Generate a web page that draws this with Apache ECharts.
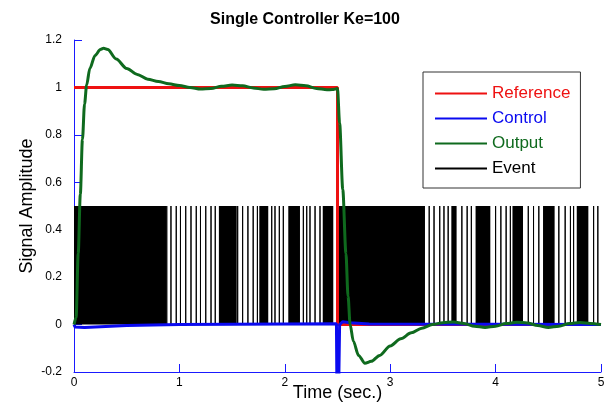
<!DOCTYPE html>
<html><head><meta charset="utf-8">
<script src="https://cdn.jsdelivr.net/npm/echarts@6/dist/echarts.min.js"></script>
<style>html,body{margin:0;padding:0;background:#fff}#c{width:610px;height:407px}</style>
</head><body><div id="c"></div>
<script>
const titleText = 'Single Controller Ke=100';
const xAxisName = 'Time (sec.)';
const yAxisName = 'Signal Amplitude';
const seriesNames = ['Reference', 'Control', 'Output', 'Event'];

const refTime  = [0, 2.5, 2.5, 5];
const refValue = [1, 1, 0, 0];

const ctrlTime  = [0, 0.01, 0.1, 0.3, 0.5, 1.0, 2.49, 2.5, 2.52, 2.55, 2.62, 2.8, 5.0];
const ctrlValue = [0, -0.01, -0.012, -0.008, -0.004, 0.0, 0.003, -0.6, 0.0, 0.012, 0.008, 0.002, 0.0];

const outTime  = [0, 0.02, 0.04, 0.06, 0.08, 0.1, 0.12, 0.15, 0.2, 0.25, 0.28, 0.32, 0.4, 0.5, 0.6, 0.7, 0.8, 0.9, 1.0, 1.1, 1.2, 1.3, 1.4, 1.5, 1.6, 1.7, 1.8, 1.9, 2.0, 2.1, 2.2, 2.3, 2.4, 2.45, 2.5, 2.52, 2.55, 2.58, 2.6, 2.62, 2.65, 2.7, 2.76, 2.82, 2.9, 3.0, 3.1, 3.2, 3.3, 3.4, 3.5, 3.6, 3.7, 3.8, 3.9, 4.0, 4.1, 4.2, 4.3, 4.4, 4.5, 4.6, 4.7, 4.8, 4.9, 5.0];
const outValue = [0, 0.03, 0.3, 0.55, 0.78, 0.93, 1.01, 1.08, 1.135, 1.16, 1.165, 1.16, 1.12, 1.08, 1.055, 1.035, 1.025, 1.015, 1.008, 1.0, 0.993, 0.995, 1.005, 1.01, 1.007, 0.998, 0.992, 0.994, 1.004, 1.011, 1.007, 0.996, 0.99, 0.991, 0.995, 0.85, 0.57, 0.3, 0.12, 0.0, -0.07, -0.13, -0.163, -0.155, -0.13, -0.09, -0.06, -0.035, -0.015, 0.0, 0.008, 0.011, 0.005, -0.007, -0.012, -0.007, 0.004, 0.01, 0.007, -0.004, -0.012, -0.007, 0.004, 0.009, 0.005, 0.0];

const eventHeight = 0.5;
const eventBlocks = [[0, 0.873], [1.385, 1.544], [1.758, 1.843], [2.033, 2.144], [2.36, 2.46], [2.508, 3.33], [3.58, 3.63], [3.81, 3.95], [4.16, 4.26], [4.45, 4.56], [4.77, 4.88]];
const eventTimes = [0.88, 0.92, 0.97, 1.01, 1.06, 1.11, 1.16, 1.2, 1.25, 1.3, 1.34, 1.38,
  1.553, 1.60, 1.65, 1.70, 1.74, 1.876, 1.907, 1.948, 1.986, 2.176, 2.208, 2.239, 2.287, 2.334,
  3.37, 3.416, 3.47, 3.51, 3.55, 3.68, 3.73, 3.77, 4.0, 4.05, 4.1, 4.14, 4.31, 4.36, 4.41, 4.6, 4.66, 4.71, 4.74, 4.93, 4.97];

const xMin = 0, xMax = 5, xStep = 1;
const yMin = -0.2, yMax = 1.2, yStep = 0.2;

const RED = '#ee1111', BLUE = '#0a0af0', GREEN = '#0f6a1e', AXIS = '#1a1aff';
const FONT = 'Liberation Sans, Arial, sans-serif';

const zip = (a, b) => a.map((v, i) => [v, b[i]]);
const eventLine = [];
eventTimes.slice().sort((a, b) => a - b).forEach(t => { eventLine.push([t, 0], [t, eventHeight], [t, 0]); });

const chart = echarts.init(document.getElementById('c'), null, {renderer: 'canvas'});
chart.setOption({
  animation: false,
  backgroundColor: '#fff',
  title: {text: titleText, left: 'center', top: 7, textStyle: {fontFamily: FONT, fontSize: 16, fontWeight: 'bold', color: '#000'}},
  grid: {left: 74, right: 9, top: 40, bottom: 35, containLabel: false, outerBoundsMode: 'none'},
  legend: {
    left: 423, top: 72, orient: 'vertical',
    backgroundColor: '#fff', borderColor: '#333', borderWidth: 1, borderRadius: 0,
    padding: [13, 10, 11, 11], itemWidth: 52, itemHeight: 14, itemGap: 8,
    itemStyle: {opacity: 0},
    textStyle: {fontFamily: FONT, fontSize: 17},
    data: [
      {name: seriesNames[0], textStyle: {color: RED}},
      {name: seriesNames[1], textStyle: {color: BLUE}},
      {name: seriesNames[2], textStyle: {color: GREEN}},
      {name: seriesNames[3], textStyle: {color: '#000'}}
    ]
  },
  xAxis: {
    type: 'value', min: xMin, max: xMax, interval: xStep,
    name: xAxisName, nameLocation: 'middle', nameGap: 12, nameMoveOverlap: false,
    nameTextStyle: {fontFamily: FONT, fontSize: 18, color: '#000'},
    axisLine: {show: true, onZero: false, lineStyle: {color: AXIS, width: 1}},
    axisTick: {show: true, inside: true, length: 8, lineStyle: {color: AXIS}},
    axisLabel: {fontFamily: FONT, fontSize: 12, color: '#000', margin: 5},
    splitLine: {show: false}
  },
  yAxis: {
    type: 'value', min: yMin, max: yMax, interval: yStep,
    name: yAxisName, nameLocation: 'middle', nameGap: 38, nameMoveOverlap: false,
    nameTextStyle: {fontFamily: FONT, fontSize: 18, color: '#000'},
    axisLine: {show: true, onZero: false, lineStyle: {color: AXIS, width: 1}},
    axisTick: {show: true, inside: true, length: 8, lineStyle: {color: AXIS}},
    axisLabel: {fontFamily: FONT, fontSize: 12, color: '#000', margin: 12,
      formatter: v => String(Math.round(v * 10) / 10)},
    splitLine: {show: false}
  },
  series: [
    {name: seriesNames[3], type: 'line', data: eventLine, symbol: 'none', clip: true,
     lineStyle: {color: '#000', width: 1}, itemStyle: {color: '#000'}},
    {name: seriesNames[3], type: 'custom', data: eventBlocks, encode: {x: [0, 1]}, clip: true,
     renderItem: (params, api) => {
       const p0 = api.coord([api.value(0), eventHeight]);
       const p1 = api.coord([api.value(1), 0]);
       return {type: 'rect', shape: {x: p0[0], y: p0[1], width: p1[0] - p0[0], height: p1[1] - p0[1]}, style: {fill: '#000'}};
     }},
    {name: seriesNames[0], type: 'line', data: zip(refTime, refValue), symbol: 'none', clip: true,
     lineStyle: {color: RED, width: 3}, itemStyle: {color: RED}},
    {name: seriesNames[1], type: 'line', data: zip(ctrlTime, ctrlValue), symbol: 'none', clip: true,
     lineStyle: {color: BLUE, width: 3}, itemStyle: {color: BLUE}},
    {name: seriesNames[2], type: 'line', data: zip(outTime, outValue), symbol: 'none', clip: true,
     smooth: 0.3, smoothMonotone: 'x',
     lineStyle: {color: GREEN, width: 3}, itemStyle: {color: GREEN}}
  ]
});
</script></body></html>
